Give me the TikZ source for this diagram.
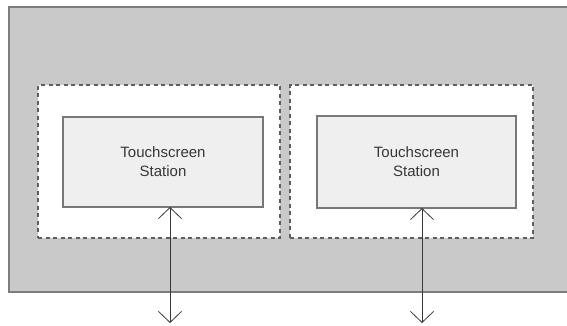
\documentclass[tikz,border=0pt]{standalone}
\usepackage{fontspec}
\setmainfont{Liberation Sans}
\usetikzlibrary{arrows.meta}
\definecolor{sitegray}{RGB}{201,201,201}
\definecolor{framegray}{RGB}{125,125,125}
\definecolor{dashgray}{RGB}{95,95,95}
\definecolor{boxfill}{RGB}{239,239,239}
\definecolor{boxline}{RGB}{120,120,120}
\definecolor{inkgray}{RGB}{55,55,55}
\tikzset{
  zone/.style={draw=dashgray, fill=white, line width=1.3pt,
    dash pattern=on 4pt off 3.5pt, anchor=north west, inner sep=0pt, outer sep=0pt},
  stationbox/.style={draw=boxline, fill=boxfill, line width=1.3pt,
    anchor=north west, inner sep=0pt, outer sep=0pt, align=center,
    text=inkgray, font=\fontsize{15}{19}\selectfont},
  link/.style={draw=inkgray, line width=0.9pt,
    {Straight Barb[length=11pt,width=23pt,line width=0.8pt]}-{Straight Barb[length=11pt,width=23pt,line width=0.8pt]}}
}
\begin{document}
\begin{tikzpicture}[x=1pt,y=-1pt]
  \useasboundingbox (0,0) rectangle (567,325);
  % shaded site area with its frame on top, left and bottom
  \fill[sitegray] (8,6) rectangle (567,292);
  \draw[framegray, line width=1.6pt] (567,7) -- (9,7) -- (9,292) -- (567,292);
  % dashed zones
  \node[zone, minimum width=242pt, minimum height=153pt] (z1) at (38,85) {};
  \node[zone, minimum width=243pt, minimum height=153pt] (z2) at (290,85) {};
  % touchscreen stations
  \node[stationbox, minimum width=200pt, minimum height=90pt] (s1) at (63,117) {Touchscreen\\Station};
  \node[stationbox, minimum width=199pt, minimum height=92pt] (s2) at (317,116) {Touchscreen\\Station};
  % links leaving the site
  \coordinate (e1) at (170,323);
  \coordinate (e2) at (422,323);
  \draw[link] (e1) -- (e1 |- s1.south);
  \draw[link] (e2) -- (e2 |- s2.south);
\end{tikzpicture}
\end{document}
